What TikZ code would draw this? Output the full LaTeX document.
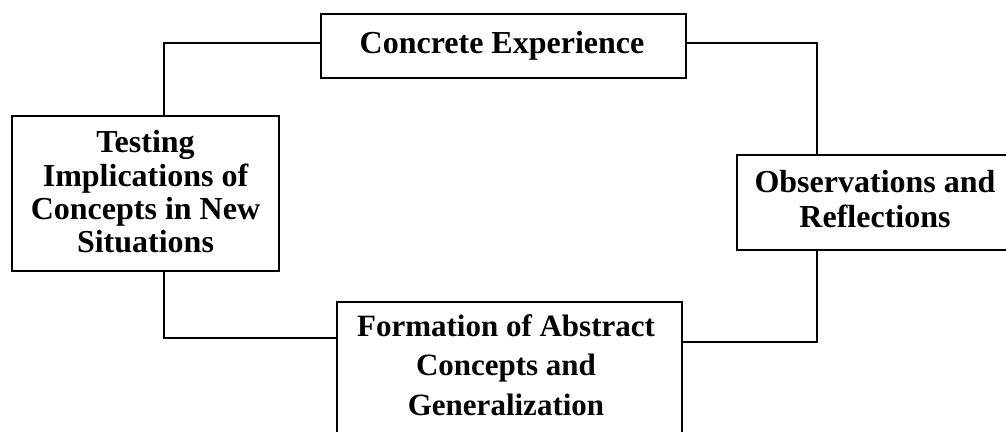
\documentclass[tikz,border=0pt]{standalone}
\usepackage{fontspec}
\setmainfont{Liberation Serif}
\begin{document}
\begin{tikzpicture}[x=1pt,y=-1pt,
  box/.style={draw, line width=2.3pt, rectangle, inner sep=0pt},
  lbl/.style={font=\bfseries\fontsize{32}{33.3}\selectfont, align=center, inner sep=0pt},
  conn/.style={line width=2pt}]
\useasboundingbox (0,0) rectangle (1006,431);
% boxes
\node[box, minimum width=365pt, minimum height=64pt] (ce) at (503.5,46) {};
\node[box, minimum width=267pt, minimum height=155pt] (test) at (145.5,193.5) {};
\node[box, minimum width=275pt, minimum height=95pt] (obs) at (874.5,202.5) {};
\node[box, minimum width=345pt, minimum height=168pt] (form) at (509.5,386) {};
% texts
\node[lbl, anchor=base] (ce-t) at (502,53) {Concrete Experience};
\node[lbl] (test-t) at (145.5,192) {Testing\\Implications of\\Concepts in New\\Situations};
\node[lbl, font=\bfseries\fontsize{32}{35}\selectfont] (obs-t) at (875,199) {Observations and\\Reflections};
\node[lbl, font=\bfseries\fontsize{31}{39.5}\selectfont] (form-t) at (506,365) {Formation of Abstract\\Concepts and\\Generalization};
% connectors
\draw[conn] ([yshift=3pt]ce.west) -| ([xshift=18.5pt]test.north);
\draw[conn] ([xshift=18.5pt]test.south) |- ([yshift=48pt]form.west);
\draw[conn] ([yshift=44pt]form.east) -| ([xshift=-57.5pt]obs.south);
\draw[conn] ([xshift=-57.5pt]obs.north) |- ([yshift=3pt]ce.east);
\end{tikzpicture}
\end{document}
